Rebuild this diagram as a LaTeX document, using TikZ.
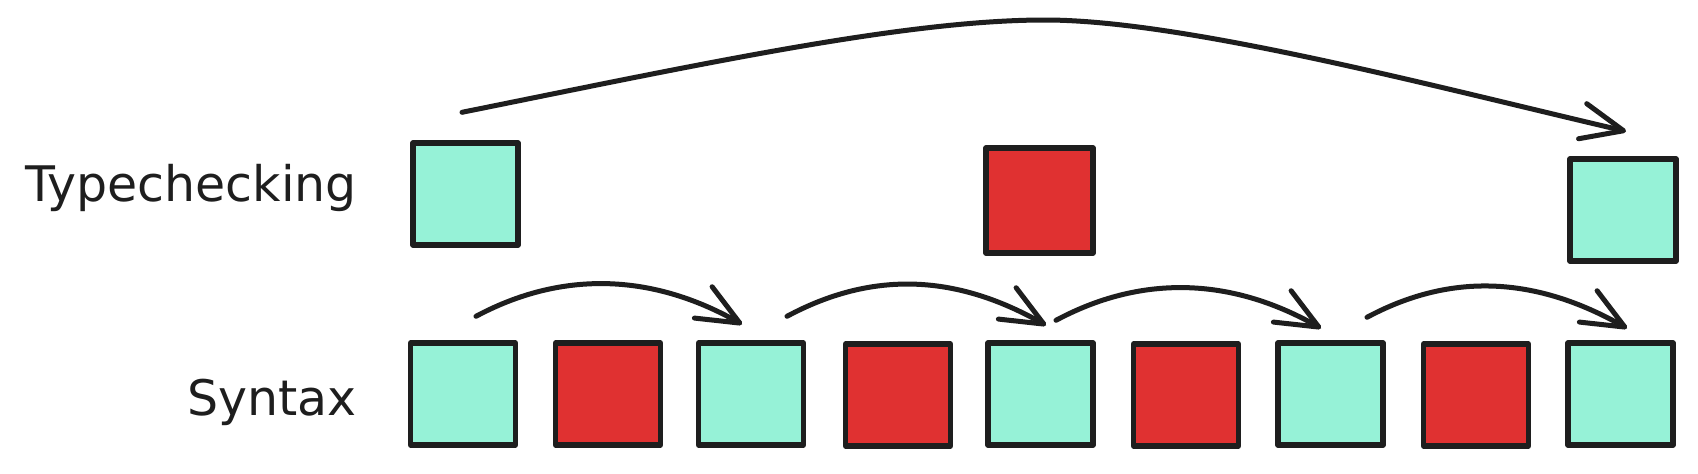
\documentclass[tikz,border=0pt]{standalone}
\usepackage{fontspec}
\newfontfamily\handfont{DejaVu Sans}
\usetikzlibrary{arrows.meta,calc}
\definecolor{ink}{HTML}{1E1E1E}
\definecolor{tealfill}{HTML}{96F2D7}
\definecolor{redfill}{HTML}{E03131}
\begin{document}
\begin{tikzpicture}[x=1pt,y=-1pt,
  cell/.style={draw=ink, line width=5.4pt, line join=round, inner sep=0pt,
    minimum width=105pt, minimum height=102pt},
  tcell/.style={cell, fill=tealfill},
  rcell/.style={cell, fill=redfill},
  label/.style={font=\handfont\fontsize{49}{58}\selectfont, text=ink, inner sep=0pt, anchor=base east},
  link/.style={draw=ink, line width=5pt, line cap=round,
    -{Straight Barb[length=42pt,width=36pt,line cap=round,line join=round]}}
]
\useasboundingbox[fill=white] (0,0) rectangle (1698,474);

\node[label] (typ) at (357,201) {Typechecking};
\node[label] (syn) at (357,415) {Syntax};

\node[tcell] (T1) at (465.5,194) {};
\node[rcell, minimum width=107pt, minimum height=105pt] (T2) at (1039.5,200.5) {};
\node[tcell, minimum width=106pt] (T3) at (1623,210) {};

\node[tcell] (S1) at (463,394) {};
\node[rcell] (S2) at (608,394) {};
\node[tcell] (S3) at (751,394) {};
\node[rcell] (S4) at (898,395) {};
\node[tcell] (S5) at (1040.5,394) {};
\node[rcell] (S6) at (1186,395) {};
\node[tcell] (S7) at (1330.5,394) {};
\node[rcell] (S8) at (1476,395) {};
\node[tcell] (S9) at (1620.5,394) {};

\draw[link] ($(S1.north)+(13,-24)$) .. controls +(84,-45) and +(-92,-52) .. ($(S3.north)+(-9,-16)$);
\draw[link] ($(S3.north)+(36,-24)$) .. controls +(84,-45) and +(-92,-52) .. ($(S5.north)+(5.5,-15)$);
\draw[link] ($(S5.north)+(15.5,-20)$) .. controls +(84,-45) and +(-92,-52) .. ($(S7.north)+(-9.5,-12)$);
\draw[link] ($(S7.north)+(36.5,-23)$) .. controls +(84,-45) and +(-92,-52) .. ($(S9.north)+(6.5,-12)$);

\coordinate (bigtop) at (1045,20);
\draw[link] ($(T1.north)+(-3.5,-28)$) .. controls +(238,-48) and (905,20) .. (bigtop)
  .. controls (1185,20) and (1440,88) .. ($(T3.north)+(3,-25)$);
\end{tikzpicture}
\end{document}
